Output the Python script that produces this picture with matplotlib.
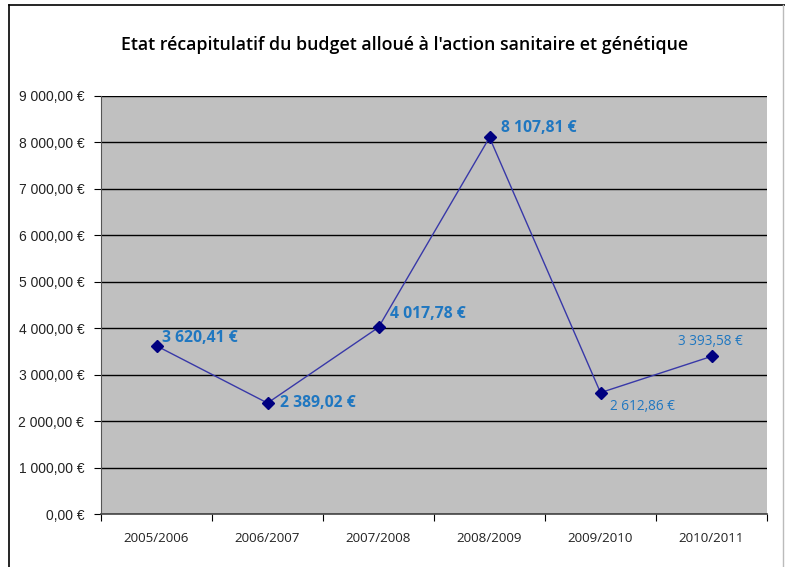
import matplotlib
matplotlib.use("Agg")
import matplotlib.pyplot as plt
from matplotlib.ticker import FuncFormatter, MultipleLocator
from matplotlib.lines import Line2D

seasons = ["2005/2006", "2006/2007", "2007/2008", "2008/2009", "2009/2010", "2010/2011"]
budget = [3620.41, 2389.02, 4017.78, 8107.81, 2612.86, 3393.58]
label_bold = [True, True, True, True, False, False]
# (dx, dy) label offsets in points, and horizontal alignment
label_offsets = [(4, 6), (9, 0), (8, 10), (8, 7), (7, -10), (-1, 11)]
label_align = ["left", "left", "left", "left", "left", "center"]

W, H = 785, 567
fig = plt.figure(figsize=(W / 100, H / 100), dpi=100)
fig.patch.set_facecolor("white")

# outer chart frame
fig.add_artist(Line2D([9 / W, 9 / W], [0, 1 - 5 / H], color="black", lw=1.2))
fig.add_artist(Line2D([9 / W, 1], [1 - 5 / H, 1 - 5 / H], color="black", lw=1.2))
fig.add_artist(Line2D([783 / W, 783 / W], [0, 1 - 5 / H], color="#bbbbbb", lw=1.0))

left, right, top, bottom = 101, 767, 96, 514
ax = fig.add_axes([left / W, (H - bottom) / H, (right - left) / W, (bottom - top) / H])
ax.set_facecolor("#C0C0C0")

x = list(range(len(seasons)))
ax.plot(x, budget, color="#3838A8", lw=1.0, zorder=3)
ax.plot(x, budget, linestyle="none", marker="D", ms=6, color="#000080", zorder=4)

ax.set_xlim(-0.5, len(seasons) - 0.5)
ax.set_ylim(0, 9000)
ax.yaxis.set_major_locator(MultipleLocator(1000))


def euro(v, pos=None):
    s = f"{v:,.2f}".replace(",", " ").replace(".", ",")
    return s + " €"


ax.yaxis.set_major_formatter(FuncFormatter(euro))
ax.grid(axis="y", color="black", lw=1.0, zorder=1)
ax.set_axisbelow(True)

ax.set_xticks(x)
ax.set_xticklabels(seasons, fontfamily="Open Sans", fontsize=9.6, color="#222222")
ax.tick_params(axis="x", length=0, pad=13)
ax.set_xticks([i - 0.5 for i in range(len(seasons) + 1)], minor=True)
ax.tick_params(axis="x", which="minor", length=5, width=0.8, direction="out")
ax.tick_params(axis="y", length=5, width=0.8, direction="out", pad=7,
               labelsize=10, labelcolor="#222222")
for lab in ax.get_yticklabels():
    lab.set_fontfamily("Liberation Sans")

for s in ["top", "right"]:
    ax.spines[s].set_visible(False)
ax.spines["left"].set_color("#555555")
ax.spines["bottom"].set_color("#444444")
ax.spines["bottom"].set_linewidth(1.2)

for xi, v, b, off, ha in zip(x, budget, label_bold, label_offsets, label_align):
    ax.annotate(euro(v), (xi, v), xytext=off, textcoords="offset points",
                ha=ha, va="center", fontfamily="Open Sans",
                fontweight="bold" if b else "normal",
                fontsize=11.3 if b else 9.8, color="#1F77C0", zorder=5)

fig.text(405 / W, 1 - 45 / H,
         "Etat récapitulatif du budget alloué à l'action sanitaire et génétique",
         ha="center", va="center", fontfamily="Open Sans", fontweight="semibold",
         fontsize=12.8, color="black")

fig.savefig("out.png", dpi=100)
